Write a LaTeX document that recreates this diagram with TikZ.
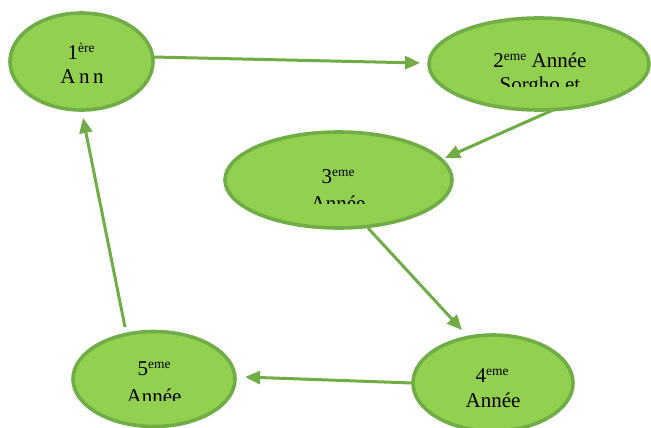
\documentclass[tikz,border=0pt]{standalone}
\usepackage{fontspec}
\setmainfont{Liberation Serif}
\usetikzlibrary{shapes.geometric,arrows.meta}
\definecolor{gfill}{HTML}{92D050}
\definecolor{gline}{HTML}{70AD47}
\newcommand{\mysup}[1]{{\fontsize{13.5}{13.5}\selectfont\raisebox{7pt}{#1}}}
\tikzset{
  ell/.style={ellipse, draw=gline, fill=gfill, line width=3.6pt, inner sep=0pt},
  lbl/.style={anchor=base, inner sep=0pt, font=\fontsize{21}{24}\selectfont},
  conn/.style={draw=gline, line width=3pt, -{Triangle[length=15pt,width=13pt]}}
}
\begin{document}
\begin{tikzpicture}[x=1pt,y=-1pt]
\useasboundingbox (0,0) rectangle (651,428);
% ellipses
\node[ell, minimum width=143pt, minimum height=97pt] (e1) at (81.5,61.5) {};
\node[ell, minimum width=220pt, minimum height=92pt] (e2) at (539,64) {};
\node[ell, minimum width=227pt, minimum height=96pt] (e3) at (338.5,180) {};
\node[ell, minimum width=160pt, minimum height=96pt] (e4) at (493,383) {};
\node[ell, minimum width=162pt, minimum height=95pt] (e5) at (154,379) {};
% texts
\node[lbl] (t1a) at (81,60) {1\mysup{ère}};
\begin{scope}
\clip (0,0) rectangle (651,85);
\node[lbl] (t1b) at (82,84) {A\,n\,n};
\end{scope}
\node[lbl] (t2a) at (540,68) {2\mysup{eme} Année};
\begin{scope}
\clip (0,0) rectangle (651,87);
\node[lbl] (t2b) at (540,92) {Sorgho et};
\end{scope}
\node[lbl] (t3a) at (338,183) {3\mysup{eme}};
\begin{scope}
\clip (0,0) rectangle (651,203);
\node[lbl] (t3b) at (338,210) {Année};
\end{scope}
\node[lbl] (t4a) at (492,382) {4\mysup{eme}};
\node[lbl] (t4b) at (493,407) {Année};
\node[lbl] (t5a) at (154,375) {5\mysup{eme}};
\begin{scope}
\clip (0,0) rectangle (651,400);
\node[lbl] (t5b) at (154,403) {Année};
\end{scope}
% connector end points
\coordinate (s12) at (153,57);  \coordinate (d12) at (420,63);
\coordinate (s23) at (553,110); \coordinate (d23) at (445,158);
\coordinate (s34) at (368,228); \coordinate (d34) at (462,330);
\coordinate (s45) at (412,383); \coordinate (d45) at (245,377);
\coordinate (s51) at (125,327); \coordinate (d51) at (83,118);
\draw[conn] (s12) -- (d12);
\draw[conn] (s23) -- (d23);
\draw[conn] (s34) -- (d34);
\draw[conn] (s45) -- (d45);
\draw[conn] (s51) -- (d51);
\end{tikzpicture}
\end{document}
